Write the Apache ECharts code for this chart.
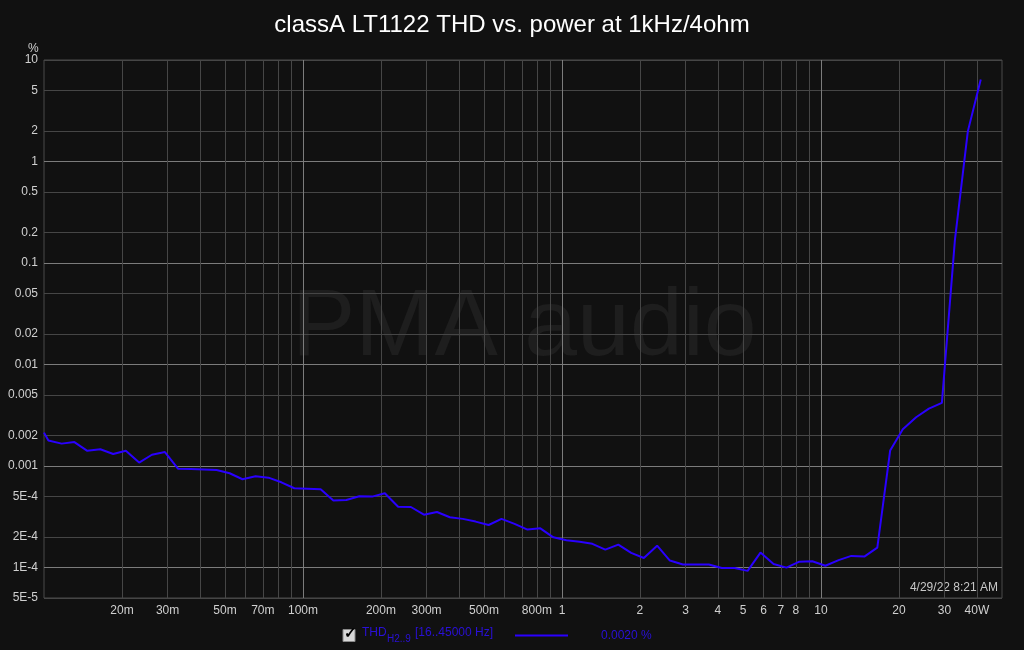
<!DOCTYPE html>
<html>
<head>
<meta charset="utf-8">
<script src="https://cdn.jsdelivr.net/npm/echarts@6/dist/echarts.min.js"></script>
<style>
html,body{margin:0;padding:0;background:#111111;}
#chart{width:1024px;height:650px;}
</style>
</head>
<body>
<div id="chart"></div>
<script>
// ---- data ----
const powerW = [0.01, 0.0104, 0.0117, 0.0131, 0.0147, 0.0165, 0.0185, 0.0207, 0.0233, 0.0261, 0.0293,
  0.0329, 0.0369, 0.0414, 0.0464, 0.0521, 0.0584, 0.0656, 0.0736, 0.0825, 0.0926,
  0.104, 0.117, 0.131, 0.147, 0.165, 0.185, 0.207, 0.233, 0.261, 0.293,
  0.329, 0.369, 0.414, 0.464, 0.521, 0.584, 0.656, 0.736, 0.825, 0.926,
  1.04, 1.17, 1.31, 1.47, 1.65, 1.85, 2.07, 2.33, 2.61, 2.93,
  3.29, 3.69, 4.14, 4.64, 5.21, 5.84, 6.56, 7.36, 8.25, 9.26,
  10.4, 11.7, 13.1, 14.7, 16.5, 18.5, 20.7, 23.3, 26.1, 29.3,
  32.9, 36.9, 41.4];
const thdPercent = [0.00213, 0.00178, 0.00166, 0.00172, 0.00141, 0.00146, 0.00131, 0.00141, 0.00108, 0.00129, 0.00137,
  0.00094, 0.000934, 0.000924, 0.000914, 0.000848, 0.00074, 0.000792, 0.000767, 0.00069, 0.000603,
  0.000597, 0.000589, 0.000457, 0.000462, 0.000503, 0.000499, 0.000539, 0.000397, 0.000394, 0.000331,
  0.000352, 0.000312, 0.000301, 0.000283, 0.000262, 0.000301, 0.000269, 0.000236, 0.000243, 0.000198,
  0.000185, 0.000179, 0.000171, 0.00015, 0.000168, 0.000139, 0.000124, 0.000164, 0.000117, 0.000107,
  0.000107, 0.000107, 0.0000989, 0.0000989, 0.0000925, 0.00014, 0.000108, 0.0000996, 0.000114, 0.000115,
  0.000104, 0.000118, 0.00013, 0.000128, 0.000157, 0.00142, 0.0023, 0.00302, 0.00367, 0.00418,
  0.169, 1.98, 6.43];

const xLabelValues = [0.02, 0.03, 0.05, 0.07, 0.1, 0.2, 0.3, 0.5, 0.8, 1, 2, 3, 4, 5, 6, 7, 8, 10, 20, 30, 40];
const xLabelTexts  = ['20m','30m','50m','70m','100m','200m','300m','500m','800m','1','2','3','4','5','6','7','8','10','20','30','40W'];
const xGridValues = [0.02,0.03,0.04,0.05,0.06,0.07,0.08,0.09,0.1,0.2,0.3,0.4,0.5,0.6,0.7,0.8,0.9,1,2,3,4,5,6,7,8,9,10,20,30,40];
const xMajorValues = [0.1, 1, 10];

const yLabelValues = [5e-5, 1e-4, 2e-4, 5e-4, 0.001, 0.002, 0.005, 0.01, 0.02, 0.05, 0.1, 0.2, 0.5, 1, 2, 5, 10];
const yLabelTexts  = ['5E-5','1E-4','2E-4','5E-4','0.001','0.002','0.005','0.01','0.02','0.05','0.1','0.2','0.5','1','2','5','10'];
const yMajorValues = [1e-4, 0.001, 0.01, 0.1, 1];

const titleText = 'classA LT1122 THD vs. power at 1kHz/4ohm';
const dateText = '4/29/22 8:21 AM';

// ---- build ----
const FONT = "'Liberation Sans', Arial, sans-serif";
const LINE_COLOR = '#2a00ff';
const LEG_COLOR = '#2a10d8';
const MINOR = '#464646';
const MAJOR = '#7c7c7c';

function lookup(vals, texts) {
  return function (v) {
    for (let i = 0; i < vals.length; i++) {
      if (Math.abs(Math.log10(v) - Math.log10(vals[i])) < 1e-4) return texts[i];
    }
    return '';
  };
}

const seriesData = powerW.map((p, i) => [p, thdPercent[i]]);

const chart = echarts.init(document.getElementById('chart'), null, {renderer: 'canvas'});
chart.setOption({
  backgroundColor: '#111111',
  animation: false,
  title: {
    text: titleText, left: 'center', top: 8,
    textStyle: {color: '#ffffff', fontSize: 24, fontWeight: 'normal', fontFamily: FONT}
  },
  grid: {left: 44, top: 60, right: 22, bottom: 52, show: true, borderColor: '#4a4a4a', borderWidth: 1, backgroundColor: 'transparent'},
  xAxis: [{
    type: 'log', logBase: 10, min: 0.01, max: 50,
    axisLine: {show: false},
    axisTick: {show: false, customValues: xGridValues},
    axisLabel: {color: '#d0d0d0', fontSize: 12, fontFamily: FONT, margin: 7,
      customValues: xLabelValues, formatter: lookup(xLabelValues, xLabelTexts)},
    splitLine: {show: true, lineStyle: {color: MINOR, width: 1}}
  }, {
    type: 'log', logBase: 10, min: 0.01, max: 50, gridIndex: 0, position: 'bottom',
    axisLine: {show: false},
    axisTick: {show: false, customValues: xMajorValues},
    axisLabel: {show: false},
    splitLine: {show: true, lineStyle: {color: MAJOR, width: 1}}
  }],
  yAxis: [{
    type: 'log', logBase: 10, min: 5e-5, max: 10,
    axisLine: {show: false},
    axisTick: {show: false, customValues: yLabelValues},
    axisLabel: {color: '#d0d0d0', fontSize: 12, fontFamily: FONT, margin: 6,
      customValues: yLabelValues, formatter: lookup(yLabelValues, yLabelTexts)},
    splitLine: {show: true, lineStyle: {color: MINOR, width: 1}}
  }, {
    type: 'log', logBase: 10, min: 5e-5, max: 10, gridIndex: 0, position: 'left',
    axisLine: {show: false},
    axisTick: {show: false, customValues: yMajorValues},
    axisLabel: {show: false},
    splitLine: {show: true, lineStyle: {color: MAJOR, width: 1}}
  }],
  series: [{
    type: 'line', name: 'THD', xAxisIndex: 0, yAxisIndex: 0,
    data: seriesData, showSymbol: false, symbol: 'none', smooth: false,
    lineStyle: {color: LINE_COLOR, width: 2}, z: 5
  }],
  graphic: [
    {type: 'text', z: -1, silent: true, left: 292, top: 281,
      style: {text: 'PMA audio', x: 0, y: 0, fill: '#1e1e1e', font: "95px " + FONT}},
    {type: 'text', left: 28, top: 43, style: {text: '%', fill: '#d0d0d0', font: '12px ' + FONT}},
    {type: 'text', right: 26, top: 582, style: {text: dateText, fill: '#c8c8c8', font: '12px ' + FONT}},
    // legend row
    {type: 'rect', shape: {x: 343, y: 629.5, width: 12, height: 12}, style: {fill: '#d8d8d8', stroke: '#8a8a8a', lineWidth: 1}},
    {type: 'text', x: 343.5, y: 626, style: {text: '✓', fill: '#000000', font: 'bold 15px ' + FONT}},
    {type: 'text', x: 362, y: 627, style: {text: 'THD', fill: LEG_COLOR, font: '12px ' + FONT}},
    {type: 'text', x: 387, y: 634, style: {text: 'H2..9', fill: LEG_COLOR, font: '10px ' + FONT}},
    {type: 'text', x: 415, y: 627, style: {text: '[16..45000 Hz]', fill: LEG_COLOR, font: '12px ' + FONT}},
    {type: 'line', shape: {x1: 515, y1: 635.5, x2: 568, y2: 635.5}, style: {stroke: LINE_COLOR, lineWidth: 2}},
    {type: 'text', x: 601, y: 630, style: {text: '0.0020 %', fill: LEG_COLOR, font: '12px ' + FONT}}
  ]
});
</script>
</body>
</html>
